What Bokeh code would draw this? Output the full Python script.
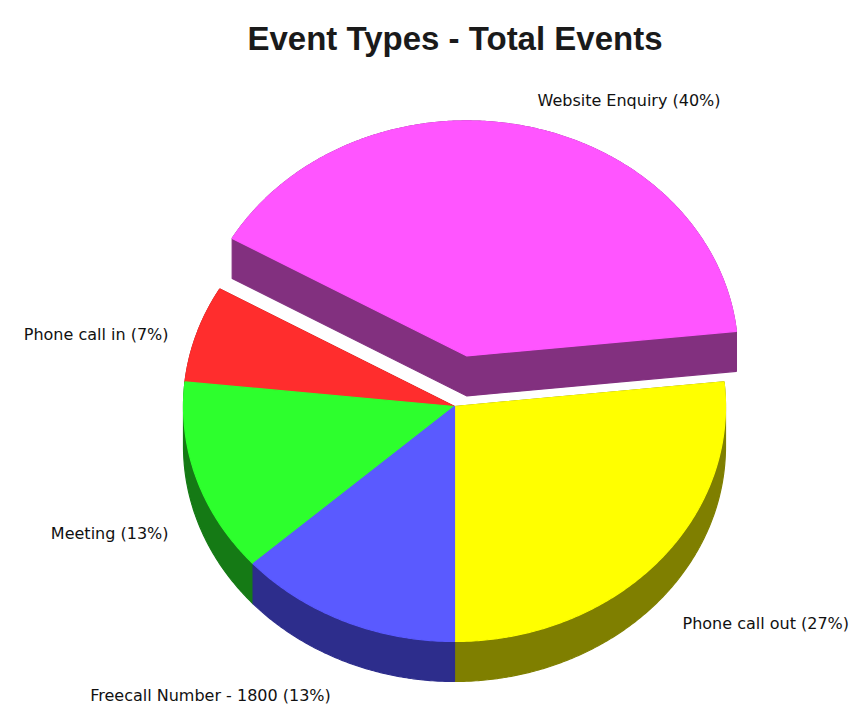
import numpy as np
from bokeh.plotting import figure
from bokeh.models import Range1d
from bokeh.embed import file_html
from bokeh.resources import INLINE
from bokeh.core.properties import value

# ---- data ----
title = "Event Types - Total Events"
categories = ["Phone call out", "Website Enquiry", "Phone call in", "Meeting", "Freecall Number - 1800"]
counts = [4, 6, 1, 2, 2]
explode = [0.0, 0.22, 0.0, 0.0, 0.0]
top_colors = ["#FFFF00", "#FF55FF", "#FF2D2D", "#2DFF2D", "#5A5AFF"]
side_colors = ["#7F7F00", "#82307F", "#8C1A1A", "#157A15", "#2D2D8C"]

# ---- layout constants ----
W, H = 855, 705
CX, CY = 454.0, 406.0
RX, RY = 271.0, 235.0
DEPTH = 40.0
START_DEG = -90.0
# label anchors (x, baseline y, align)
label_layout = [
    (682, 623, "left"),
    (537, 100, "left"),
    (168, 334, "right"),
    (168, 533, "right"),
    (210, 695, "center"),
]


def hull(points):
    pts = sorted(set(points))
    if len(pts) <= 2:
        return pts

    def cross(o, a, b):
        return (a[0] - o[0]) * (b[1] - o[1]) - (a[1] - o[1]) * (b[0] - o[0])

    lower = []
    for p in pts:
        while len(lower) >= 2 and cross(lower[-2], lower[-1], p) <= 0:
            lower.pop()
        lower.append(p)
    upper = []
    for p in reversed(pts):
        while len(upper) >= 2 and cross(upper[-2], upper[-1], p) <= 0:
            upper.pop()
        upper.append(p)
    return lower[:-1] + upper[:-1]


total = float(sum(counts))
fracs = [c / total for c in counts]
pcts = [int(round(100 * f)) for f in fracs]
labels = [f"{c} ({p}%)" for c, p in zip(categories, pcts)]

top_xs, top_ys, side_xs, side_ys = [], [], [], []
cum = 0.0
for f, e in zip(fracs, explode):
    a0 = np.radians(START_DEG + 360 * cum)
    a1 = np.radians(START_DEG + 360 * (cum + f))
    cum += f
    mid = 0.5 * (a0 + a1)
    ox = RX * e * np.cos(mid)
    oy = -RY * e * np.sin(mid)
    n = max(8, int(np.degrees(a1 - a0) * 2))
    ang = np.linspace(a0, a1, n)
    px = [CX + ox] + list(CX + ox + RX * np.cos(ang))
    py = [CY + oy] + list(CY + oy - RY * np.sin(ang))
    top_xs.append(px)
    top_ys.append(py)
    pts = [(float(x), float(y)) for x, y in zip(px, py)]
    pts += [(x, y + DEPTH) for x, y in pts]
    h = hull(pts)
    side_xs.append([q[0] for q in h])
    side_ys.append([q[1] for q in h])

p = figure(width=W, height=H, x_range=Range1d(0, W), y_range=Range1d(H, 0),
           output_backend="svg", toolbar_location=None, min_border=0,
           background_fill_color="white", border_fill_color="white")
p.axis.visible = False
p.grid.visible = False
p.outline_line_color = None

p.patches(side_xs, side_ys, fill_color=side_colors, line_color=side_colors, line_width=1.2)
p.patches(top_xs, top_ys, fill_color=top_colors, line_color=top_colors, line_width=1.2)

for (lx, ly, al), txt in zip(label_layout, labels):
    p.text(x=[lx], y=[ly], text=[txt], text_font=value("DejaVu Sans"),
           text_font_size="16px", text_color="#111111", text_align=al,
           text_baseline="alphabetic")

p.text(x=[W / 2 + 27], y=[38], text=[title], text_font=value("Liberation Sans"),
       text_font_size="33px", text_font_style="bold", text_color="#1a1a1a",
       text_align="center", text_baseline="alphabetic")

open("out.html", "w").write(file_html(p, INLINE))
